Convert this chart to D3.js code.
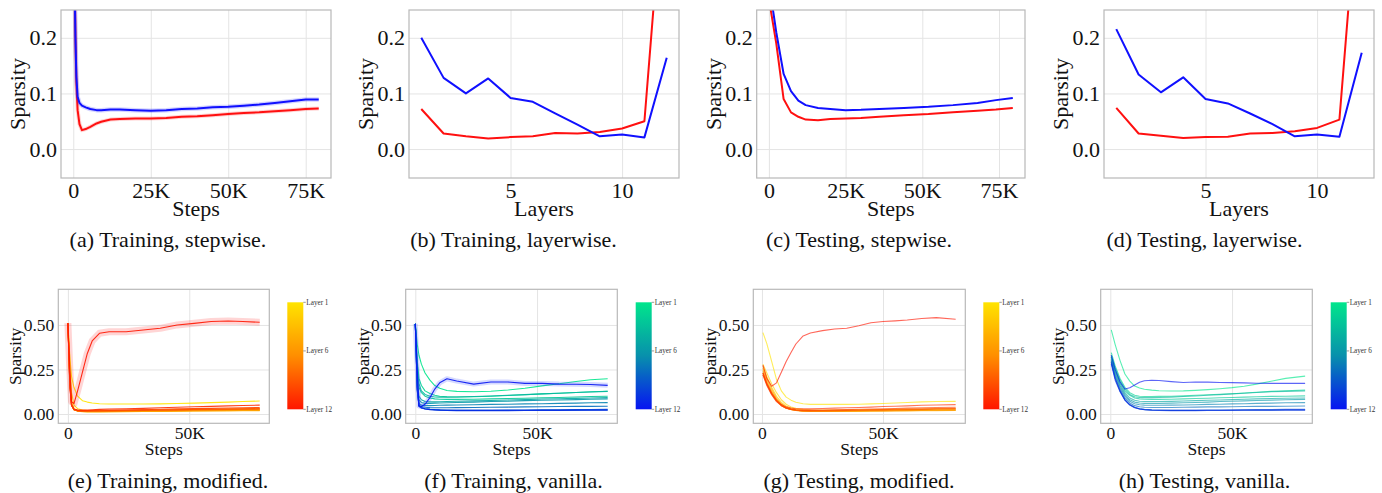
<!DOCTYPE html>
<html>
<head>
<meta charset="utf-8">
<script src="https://cdn.jsdelivr.net/npm/d3@7"></script>
<style>
  html, body { margin: 0; padding: 0; background: #ffffff; }
  svg { display: block; }
</style>
</head>
<body>
<svg id="fig" width="1382" height="493"></svg>
<script>
// ---------------- data ----------------
// Mean sparsity over all layers during training (modified = red, vanilla = blue)
const trainSteps = [0, 300, 700, 1000, 1400, 2000, 2800, 4000, 5500, 7500, 9000, 12000, 15000, 20000,
  25000, 30000, 35000, 40000, 45000, 50000, 55000, 60000, 65000, 70000, 75000, 79200];
const trainModifiedMean = [0.50, 0.35, 0.20, 0.12, 0.07, 0.045, 0.034, 0.036, 0.040, 0.046, 0.049, 0.053, 0.054, 0.055,
  0.055, 0.056, 0.058, 0.059, 0.061, 0.063, 0.065, 0.066, 0.068, 0.070, 0.072, 0.073];
const trainVanillaMean = [0.50, 0.35, 0.20, 0.13, 0.094, 0.083, 0.078, 0.075, 0.072, 0.070, 0.070, 0.071, 0.071, 0.070,
  0.069, 0.070, 0.072, 0.073, 0.075, 0.076, 0.078, 0.080, 0.083, 0.086, 0.089, 0.089];

// Mean sparsity over all layers during testing
const testSteps = [0, 2400, 4800, 7200, 9600, 12000, 16000, 20000, 25000, 30000, 36000, 44000, 52000, 60000, 68000, 74000, 79500];
const testModifiedMean = [0.27, 0.19, 0.09, 0.066, 0.058, 0.053, 0.052, 0.054, 0.055, 0.056, 0.058, 0.061, 0.063, 0.066, 0.069, 0.071, 0.074];
const testVanillaMean = [0.30, 0.21, 0.135, 0.104, 0.087, 0.079, 0.074, 0.072, 0.070, 0.0705, 0.072, 0.074, 0.076, 0.079, 0.083, 0.088, 0.092];

// Layer-wise sparsity
const layers = [1, 2, 3, 4, 5, 6, 7, 8, 9, 10, 11, 12];
const trainLayerModified = [0.072, 0.028, 0.023, 0.019, 0.0215, 0.023, 0.029, 0.028, 0.0305, 0.037, 0.050, 0.55];
const trainLayerVanilla  = [0.200, 0.128, 0.100, 0.127, 0.092, 0.085, 0.064, 0.044, 0.023, 0.026, 0.021, 0.164];
const testLayerModified  = [0.074, 0.028, 0.024, 0.020, 0.0215, 0.022, 0.028, 0.029, 0.032, 0.038, 0.053, 0.55];
const testLayerVanilla   = [0.2156, 0.134, 0.102, 0.129, 0.090, 0.082, 0.064, 0.045, 0.023, 0.026, 0.022, 0.173];

// Per-layer sparsity during training (rows: Layer 1 .. Layer 12)
const layerTrainSteps = [0, 800, 1500, 2500, 4000, 6000, 8000, 10000, 13000, 17000, 24000, 31000, 38000, 45000,
  52000, 59000, 66000, 72000, 79000];
const trainModifiedByLayer = [
  [0.51, 0.32, 0.21, 0.15, 0.10, 0.075, 0.067, 0.062, 0.058, 0.056, 0.056, 0.056, 0.057, 0.059, 0.061, 0.064, 0.067, 0.070, 0.073],
  [0.51, 0.30, 0.12, 0.05, 0.03, 0.022, 0.020, 0.019, 0.018, 0.018, 0.018, 0.019, 0.020, 0.021, 0.023, 0.024, 0.026, 0.027, 0.028],
  [0.51, 0.22, 0.07, 0.03, 0.02, 0.016, 0.015, 0.015, 0.015, 0.015, 0.016, 0.017, 0.018, 0.019, 0.020, 0.021, 0.022, 0.023, 0.023],
  [0.51, 0.20, 0.06, 0.025, 0.016, 0.013, 0.012, 0.012, 0.012, 0.012, 0.013, 0.014, 0.015, 0.016, 0.017, 0.017, 0.018, 0.019, 0.019],
  [0.51, 0.20, 0.06, 0.025, 0.017, 0.014, 0.013, 0.013, 0.013, 0.014, 0.014, 0.015, 0.016, 0.017, 0.018, 0.019, 0.020, 0.021, 0.0215],
  [0.51, 0.19, 0.055, 0.024, 0.017, 0.015, 0.014, 0.014, 0.014, 0.015, 0.016, 0.017, 0.018, 0.019, 0.020, 0.021, 0.022, 0.023, 0.023],
  [0.51, 0.18, 0.05, 0.024, 0.018, 0.016, 0.016, 0.016, 0.017, 0.018, 0.019, 0.020, 0.022, 0.023, 0.025, 0.026, 0.027, 0.028, 0.029],
  [0.51, 0.18, 0.05, 0.024, 0.018, 0.016, 0.016, 0.016, 0.017, 0.018, 0.019, 0.020, 0.021, 0.022, 0.024, 0.025, 0.026, 0.027, 0.028],
  [0.51, 0.17, 0.05, 0.025, 0.019, 0.017, 0.017, 0.017, 0.018, 0.019, 0.020, 0.021, 0.023, 0.024, 0.026, 0.027, 0.028, 0.029, 0.0305],
  [0.51, 0.16, 0.05, 0.026, 0.020, 0.019, 0.019, 0.020, 0.021, 0.022, 0.024, 0.025, 0.027, 0.029, 0.031, 0.032, 0.034, 0.035, 0.037],
  [0.51, 0.15, 0.05, 0.028, 0.023, 0.022, 0.023, 0.024, 0.026, 0.028, 0.030, 0.032, 0.035, 0.038, 0.041, 0.043, 0.046, 0.048, 0.050],
  [0.51, 0.25, 0.07, 0.058, 0.13, 0.235, 0.34, 0.41, 0.453, 0.462, 0.462, 0.472, 0.481, 0.500, 0.509, 0.519, 0.522, 0.519, 0.515]
];
const trainVanillaByLayer = [
  [0.506, 0.39, 0.33, 0.28, 0.23, 0.19, 0.16, 0.145, 0.132, 0.127, 0.125, 0.128, 0.135, 0.145, 0.158, 0.170, 0.183, 0.192, 0.198],
  [0.506, 0.30, 0.20, 0.16, 0.13, 0.115, 0.105, 0.100, 0.097, 0.096, 0.097, 0.100, 0.104, 0.108, 0.113, 0.117, 0.121, 0.125, 0.128],
  [0.506, 0.25, 0.15, 0.12, 0.10, 0.090, 0.085, 0.083, 0.082, 0.082, 0.083, 0.085, 0.087, 0.089, 0.091, 0.093, 0.096, 0.098, 0.100],
  [0.506, 0.28, 0.17, 0.13, 0.11, 0.100, 0.096, 0.095, 0.095, 0.096, 0.098, 0.101, 0.105, 0.109, 0.113, 0.117, 0.121, 0.124, 0.127],
  [0.506, 0.20, 0.10, 0.08, 0.07, 0.068, 0.068, 0.069, 0.070, 0.072, 0.074, 0.076, 0.079, 0.081, 0.084, 0.086, 0.088, 0.090, 0.092],
  [0.506, 0.18, 0.08, 0.065, 0.06, 0.060, 0.061, 0.062, 0.063, 0.065, 0.067, 0.070, 0.072, 0.075, 0.077, 0.079, 0.081, 0.083, 0.085],
  [0.506, 0.16, 0.06, 0.05, 0.047, 0.047, 0.048, 0.049, 0.050, 0.051, 0.052, 0.054, 0.055, 0.057, 0.058, 0.060, 0.061, 0.063, 0.064],
  [0.506, 0.15, 0.05, 0.042, 0.038, 0.036, 0.035, 0.035, 0.035, 0.036, 0.037, 0.038, 0.039, 0.040, 0.041, 0.042, 0.043, 0.043, 0.044],
  [0.506, 0.14, 0.045, 0.035, 0.030, 0.026, 0.024, 0.022, 0.021, 0.020, 0.020, 0.020, 0.021, 0.021, 0.022, 0.022, 0.022, 0.023, 0.023],
  [0.506, 0.14, 0.046, 0.036, 0.030, 0.027, 0.025, 0.024, 0.023, 0.022, 0.022, 0.022, 0.023, 0.023, 0.024, 0.024, 0.025, 0.025, 0.026],
  [0.506, 0.13, 0.044, 0.034, 0.028, 0.025, 0.023, 0.021, 0.020, 0.019, 0.019, 0.019, 0.019, 0.020, 0.020, 0.020, 0.021, 0.021, 0.021],
  [0.506, 0.25, 0.045, 0.042, 0.055, 0.092, 0.14, 0.175, 0.198, 0.185, 0.168, 0.180, 0.180, 0.172, 0.172, 0.168, 0.167, 0.166, 0.161]
];

// Per-layer sparsity during testing (rows: Layer 1 .. Layer 12)
const layerTestSteps = [400, 2000, 4000, 6000, 8000, 10000, 12000, 14000, 17000, 20000, 25000, 30000, 35000, 40000,
  45000, 50000, 55000, 60000, 66000, 72000, 80000];
const testModifiedByLayer = [
  [0.457, 0.395, 0.295, 0.195, 0.13, 0.095, 0.078, 0.066, 0.058, 0.054, 0.054, 0.054, 0.054, 0.055, 0.057, 0.059, 0.062, 0.065, 0.068, 0.070, 0.071],
  [0.28, 0.23, 0.17, 0.12, 0.08, 0.055, 0.040, 0.032, 0.026, 0.024, 0.023, 0.023, 0.023, 0.024, 0.024, 0.025, 0.026, 0.026, 0.027, 0.028, 0.028],
  [0.27, 0.21, 0.15, 0.10, 0.065, 0.045, 0.033, 0.026, 0.021, 0.019, 0.018, 0.018, 0.019, 0.019, 0.020, 0.021, 0.021, 0.022, 0.023, 0.023, 0.024],
  [0.26, 0.20, 0.14, 0.09, 0.058, 0.038, 0.027, 0.021, 0.017, 0.015, 0.014, 0.014, 0.015, 0.015, 0.016, 0.017, 0.017, 0.018, 0.019, 0.019, 0.020],
  [0.25, 0.19, 0.13, 0.085, 0.055, 0.036, 0.026, 0.020, 0.016, 0.015, 0.015, 0.015, 0.016, 0.016, 0.017, 0.018, 0.019, 0.019, 0.020, 0.021, 0.0215],
  [0.24, 0.18, 0.12, 0.08, 0.050, 0.034, 0.025, 0.020, 0.016, 0.015, 0.015, 0.016, 0.016, 0.017, 0.018, 0.018, 0.019, 0.020, 0.021, 0.021, 0.022],
  [0.23, 0.175, 0.12, 0.078, 0.050, 0.034, 0.026, 0.021, 0.018, 0.017, 0.017, 0.018, 0.019, 0.020, 0.021, 0.022, 0.023, 0.024, 0.025, 0.027, 0.028],
  [0.23, 0.17, 0.115, 0.075, 0.048, 0.033, 0.025, 0.021, 0.018, 0.017, 0.018, 0.019, 0.020, 0.021, 0.022, 0.023, 0.024, 0.025, 0.026, 0.028, 0.029],
  [0.22, 0.165, 0.11, 0.072, 0.047, 0.033, 0.026, 0.022, 0.020, 0.019, 0.020, 0.021, 0.022, 0.023, 0.024, 0.025, 0.027, 0.028, 0.029, 0.031, 0.032],
  [0.22, 0.16, 0.108, 0.07, 0.047, 0.034, 0.027, 0.024, 0.022, 0.022, 0.023, 0.024, 0.025, 0.027, 0.028, 0.030, 0.031, 0.033, 0.035, 0.037, 0.038],
  [0.23, 0.17, 0.115, 0.077, 0.053, 0.040, 0.033, 0.030, 0.029, 0.029, 0.031, 0.033, 0.035, 0.037, 0.039, 0.042, 0.044, 0.046, 0.049, 0.051, 0.053],
  [0.275, 0.20, 0.156, 0.175, 0.235, 0.295, 0.345, 0.393, 0.438, 0.455, 0.468, 0.477, 0.481, 0.495, 0.512, 0.519, 0.523, 0.528, 0.536, 0.541, 0.532]
];
const testVanillaByLayer = [
  [0.472, 0.39, 0.30, 0.225, 0.185, 0.157, 0.146, 0.139, 0.134, 0.131, 0.129, 0.130, 0.133, 0.137, 0.142, 0.148, 0.156, 0.168, 0.184, 0.200, 0.213],
  [0.345, 0.27, 0.20, 0.15, 0.12, 0.105, 0.100, 0.098, 0.098, 0.099, 0.100, 0.102, 0.105, 0.108, 0.111, 0.114, 0.118, 0.122, 0.127, 0.131, 0.134],
  [0.32, 0.25, 0.18, 0.13, 0.105, 0.090, 0.085, 0.083, 0.082, 0.082, 0.083, 0.085, 0.087, 0.089, 0.091, 0.093, 0.095, 0.097, 0.099, 0.100, 0.102],
  [0.33, 0.26, 0.19, 0.14, 0.11, 0.097, 0.093, 0.092, 0.092, 0.093, 0.095, 0.098, 0.101, 0.105, 0.109, 0.113, 0.117, 0.121, 0.125, 0.127, 0.129],
  [0.32, 0.24, 0.17, 0.12, 0.09, 0.077, 0.072, 0.070, 0.070, 0.070, 0.071, 0.073, 0.075, 0.077, 0.079, 0.081, 0.083, 0.085, 0.087, 0.089, 0.090],
  [0.31, 0.23, 0.16, 0.11, 0.08, 0.067, 0.062, 0.060, 0.060, 0.060, 0.061, 0.063, 0.065, 0.067, 0.070, 0.072, 0.074, 0.076, 0.078, 0.080, 0.082],
  [0.30, 0.22, 0.15, 0.10, 0.072, 0.058, 0.052, 0.050, 0.049, 0.049, 0.050, 0.051, 0.052, 0.054, 0.055, 0.057, 0.058, 0.060, 0.061, 0.063, 0.064],
  [0.30, 0.21, 0.14, 0.09, 0.062, 0.047, 0.041, 0.038, 0.037, 0.037, 0.037, 0.038, 0.039, 0.040, 0.040, 0.041, 0.042, 0.043, 0.043, 0.044, 0.045],
  [0.29, 0.20, 0.13, 0.08, 0.052, 0.037, 0.029, 0.025, 0.022, 0.021, 0.020, 0.020, 0.020, 0.021, 0.021, 0.021, 0.022, 0.022, 0.022, 0.023, 0.023],
  [0.29, 0.20, 0.13, 0.08, 0.053, 0.038, 0.030, 0.026, 0.024, 0.023, 0.022, 0.022, 0.022, 0.023, 0.023, 0.024, 0.024, 0.025, 0.025, 0.026, 0.026],
  [0.28, 0.19, 0.125, 0.078, 0.050, 0.035, 0.028, 0.024, 0.021, 0.020, 0.019, 0.019, 0.019, 0.020, 0.020, 0.020, 0.021, 0.021, 0.021, 0.022, 0.022],
  [0.33, 0.25, 0.18, 0.14, 0.148, 0.163, 0.178, 0.187, 0.190, 0.188, 0.182, 0.177, 0.180, 0.179, 0.177, 0.176, 0.175, 0.173, 0.172, 0.172, 0.172]
];

// Axis ticks and labels
const stepTicksTop = [0, 25000, 50000, 75000];
const stepTicksBottom = [0, 50000];
const layerTicks = [5, 10];
const sparsityTicksTop = [0, 0.1, 0.2];
const sparsityTicksBottom = [0, 0.25, 0.5];
const colorbarLabels = ["Layer 1", "Layer 6", "Layer 12"];
const colorbarLabelLayers = [1, 6, 12];
const captions = [
  "(a) Training, stepwise.", "(b) Training, layerwise.", "(c) Testing, stepwise.", "(d) Testing, layerwise.",
  "(e) Training, modified.", "(f) Training, vanilla.", "(g) Testing, modified.", "(h) Testing, vanilla."
];

// ---------------- drawing ----------------
const FONT = "'Liberation Serif', 'Times New Roman', Times, serif";
const RED = "#ff1010", BLUE = "#1010ff";
// layer colour ramps: Layer 1 at t = 0, Layer 12 at t = 1
const modifiedColor = d3.piecewise(d3.interpolateRgb, ["#ffe400", "#ff8e00", "#ff1600"]);
const vanillaColor = d3.piecewise(d3.interpolateRgb, ["#00e68c", "#0890ac", "#0614f2"]);
const layerT = d3.scaleLinear().domain([1, 12]).range([0, 1]);

const svg = d3.select("#fig");
const defs = svg.append("defs");
const fmtSteps = d => d === 0 ? "0" : (d / 1000) + "K";
let clipId = 0;

function drawPanel(p) {
  const x = d3.scaleLinear().domain(p.xDomain).range([p.x0, p.x1]);
  const y = d3.scaleLinear().domain(p.yDomain).range([p.y1, p.y0]);
  const g = svg.append("g");
  const w = p.x1 - p.x0, h = p.y1 - p.y0;

  // grid lines
  g.append("g").attr("transform", `translate(0,${p.y1})`)
    .call(d3.axisBottom(x).tickValues(p.xTicks).tickSize(-h).tickFormat(""))
    .call(a => a.select(".domain").remove())
    .call(a => a.selectAll("line").attr("stroke", "#e4e4e4").attr("stroke-width", 1));
  g.append("g").attr("transform", `translate(${p.x0},0)`)
    .call(d3.axisLeft(y).tickValues(p.yTicks).tickSize(-w).tickFormat(""))
    .call(a => a.select(".domain").remove())
    .call(a => a.selectAll("line").attr("stroke", "#e4e4e4").attr("stroke-width", 1));

  // data lines, clipped to the panel
  const cid = "clip" + (clipId++);
  defs.append("clipPath").attr("id", cid)
    .append("rect").attr("x", p.x0).attr("y", p.y0).attr("width", w).attr("height", h);
  const lines = g.append("g").attr("clip-path", `url(#${cid})`);
  p.series.forEach(s => {
    const pts = s.xs.map((xv, i) => [xv, s.ys[i]]);
    const line = d3.line().x(d => x(d[0])).y(d => y(d[1]));
    if (s.halo) {
      lines.append("path").attr("d", line(pts)).attr("fill", "none")
        .attr("stroke", s.halo.color).attr("stroke-width", s.halo.width)
        .attr("stroke-opacity", s.halo.opacity).attr("stroke-linejoin", "round");
    }
    lines.append("path").attr("d", line(pts)).attr("fill", "none")
      .attr("stroke", s.color).attr("stroke-width", s.width)
      .attr("stroke-opacity", s.opacity == null ? 1 : s.opacity)
      .attr("stroke-linejoin", "round");
  });

  // panel border
  g.append("rect").attr("x", p.x0).attr("y", p.y0).attr("width", w).attr("height", h)
    .attr("fill", "none").attr("stroke", "#b8b8b8").attr("stroke-width", 1.2);

  // axes text
  const xa = g.append("g").attr("transform", `translate(0,${p.y1})`)
    .call(d3.axisBottom(x).tickValues(p.xTicks).tickFormat(p.xFmt).tickSize(0).tickPadding(p.pad));
  const ya = g.append("g").attr("transform", `translate(${p.x0},0)`)
    .call(d3.axisLeft(y).tickValues(p.yTicks).tickFormat(p.yFmt).tickSize(0).tickPadding(4));
  [xa, ya].forEach(a => {
    a.select(".domain").remove();
    a.selectAll("text").attr("font-family", FONT).attr("font-size", p.tickSize).attr("fill", "#111");
  });

  g.append("text").attr("x", (p.x0 + p.x1) / 2).attr("y", p.xTitleY)
    .attr("text-anchor", "middle").attr("font-family", FONT).attr("font-size", p.titleSize)
    .attr("fill", "#111").text(p.xTitle);
  g.append("text")
    .attr("transform", `translate(${p.x0 - p.yTitleOffset},${(p.y0 + p.y1) / 2}) rotate(-90)`)
    .attr("text-anchor", "middle").attr("font-family", FONT).attr("font-size", p.titleSize)
    .attr("fill", "#111").text("Sparsity");

  if (p.colorbar) drawColorbar(p.colorbar);
}

function drawColorbar(c) {
  const gid = "grad" + (clipId++);
  const grad = defs.append("linearGradient").attr("id", gid)
    .attr("x1", 0).attr("y1", 0).attr("x2", 0).attr("y2", 1);
  d3.range(0, 1.0001, 0.05).forEach(t => {
    grad.append("stop").attr("offset", t).attr("stop-color", c.interp(t));
  });
  const cy = d3.scaleLinear().domain([1, 12]).range([c.y0, c.y1]);
  svg.append("rect").attr("x", c.x0).attr("y", c.y0).attr("width", c.w).attr("height", c.y1 - c.y0)
    .attr("fill", `url(#${gid})`);
  colorbarLabelLayers.forEach((L, i) => {
    svg.append("line").attr("x1", c.x0 + c.w).attr("x2", c.x0 + c.w + 2.5)
      .attr("y1", cy(L)).attr("y2", cy(L)).attr("stroke", "#555").attr("stroke-width", 0.6);
    svg.append("text").attr("x", c.x0 + c.w + 3).attr("y", cy(L)).attr("dy", "0.33em")
      .attr("font-family", FONT).attr("font-size", 7.2).attr("fill", "#333").text(colorbarLabels[i]);
  });
}

// shared row settings
const TOP = { y0: 10, y1: 178, yDomain: [-0.052, 0.25], yTicks: sparsityTicksTop, yFmt: d3.format(".1f"),
  tickSize: 22, titleSize: 22, pad: 4, xTitleY: 216, yTitleOffset: 36 };
const BOT = { y0: 289.3, y1: 423.3, yDomain: [-0.052, 0.70], yTicks: sparsityTicksBottom, yFmt: d3.format(".2f"),
  tickSize: 17.5, titleSize: 17.5, pad: 3.5, xTitleY: 455, yTitleOffset: 37, xTicks: stepTicksBottom, xFmt: fmtSteps };

// (a) training, stepwise
drawPanel(Object.assign({}, TOP, {
  x0: 61, x1: 331, xDomain: [-3960, 83160], xTicks: stepTicksTop, xFmt: fmtSteps, xTitle: "Steps",
  series: [
    { xs: trainSteps, ys: trainModifiedMean, color: RED, width: 2, halo: { color: RED, width: 4, opacity: 0.18 } },
    { xs: trainSteps, ys: trainVanillaMean, color: BLUE, width: 2, halo: { color: BLUE, width: 4.5, opacity: 0.18 } }
  ]
}));
// (b) training, layerwise
drawPanel(Object.assign({}, TOP, {
  x0: 409, x1: 679, xDomain: [0.45, 12.55], xTicks: layerTicks, xFmt: d3.format("d"), xTitle: "Layers",
  series: [
    { xs: layers, ys: trainLayerModified, color: RED, width: 2 },
    { xs: layers, ys: trainLayerVanilla, color: BLUE, width: 2 }
  ]
}));
// (c) testing, stepwise
drawPanel(Object.assign({}, TOP, {
  x0: 756.7, x1: 1025, xDomain: [-3975, 83475], xTicks: stepTicksTop, xFmt: fmtSteps, xTitle: "Steps",
  series: [
    { xs: testSteps, ys: testModifiedMean, color: RED, width: 2 },
    { xs: testSteps, ys: testVanillaMean, color: BLUE, width: 2 }
  ]
}));
// (d) testing, layerwise
drawPanel(Object.assign({}, TOP, {
  x0: 1104, x1: 1374, xDomain: [0.45, 12.55], xTicks: layerTicks, xFmt: d3.format("d"), xTitle: "Layers",
  series: [
    { xs: layers, ys: testLayerModified, color: RED, width: 2 },
    { xs: layers, ys: testLayerVanilla, color: BLUE, width: 2 }
  ]
}));

function layerSeries(steps, rows, interp, opacity, haloFor12) {
  return rows.map((ys, i) => {
    const L = i + 1;
    const s = { xs: steps, ys: ys, color: interp(layerT(L)), width: 1.1, opacity: opacity };
    if (L === 12 && haloFor12) s.halo = haloFor12;
    return s;
  });
}

// (e) training, modified
drawPanel(Object.assign({}, BOT, {
  x0: 58.3, x1: 269.3, xDomain: [-3950, 82950], xTitle: "Steps",
  series: layerSeries(layerTrainSteps, trainModifiedByLayer, modifiedColor, 0.9,
    { color: "#ff4040", width: 7, opacity: 0.22 }),
  colorbar: { x0: 287.3, w: 16, y0: 302.3, y1: 409.3, interp: modifiedColor }
}));
// (f) training, vanilla
drawPanel(Object.assign({}, BOT, {
  x0: 405.7, x1: 617.3, xDomain: [-3950, 82950], xTitle: "Steps",
  series: layerSeries(layerTrainSteps, trainVanillaByLayer, vanillaColor, 0.9,
    { color: "#4050ff", width: 5, opacity: 0.22 }),
  colorbar: { x0: 635.7, w: 16, y0: 302.3, y1: 409.3, interp: vanillaColor }
}));
// (g) testing, modified
drawPanel(Object.assign({}, BOT, {
  x0: 753.3, x1: 965.3, xDomain: [-3580, 83980], xTitle: "Steps",
  series: layerSeries(layerTestSteps, testModifiedByLayer, modifiedColor, 0.65, null),
  colorbar: { x0: 983.3, w: 16, y0: 302.3, y1: 409.3, interp: modifiedColor }
}));
// (h) testing, vanilla
drawPanel(Object.assign({}, BOT, {
  x0: 1100.7, x1: 1312.3, xDomain: [-3950, 82950], xTitle: "Steps",
  series: layerSeries(layerTestSteps, testVanillaByLayer, vanillaColor, 0.65, null),
  colorbar: { x0: 1330.7, w: 16, y0: 302.3, y1: 409.3, interp: vanillaColor }
}));

// sub-figure captions
captions.forEach((c, i) => {
  const col = i % 4, row = Math.floor(i / 4);
  svg.append("text").attr("x", 168 + col * 345.5).attr("y", row === 0 ? 247 : 488)
    .attr("text-anchor", "middle").attr("font-family", FONT).attr("font-size", 22)
    .attr("fill", "#111").text(c);
});
</script>
</body>
</html>
